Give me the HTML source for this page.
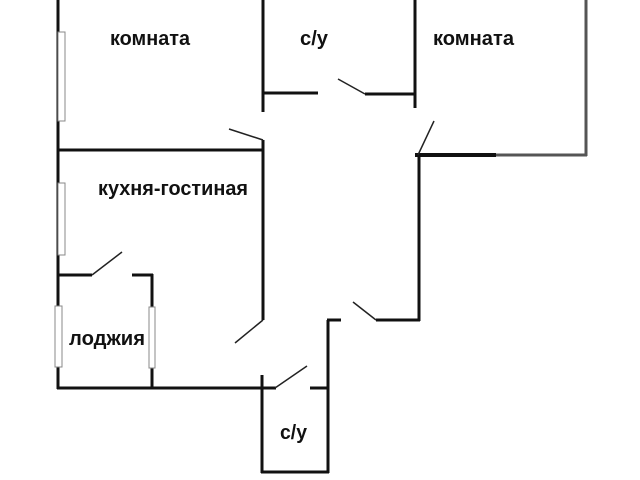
<!DOCTYPE html>
<html><head><meta charset="utf-8"><style>
body{margin:0;background:#fff;width:640px;height:480px;overflow:hidden}
svg{display:block}
text{font-family:"Liberation Sans",sans-serif;font-weight:bold;font-size:20px;fill:#111}
</style></head><body>
<svg width="640" height="480" viewBox="0 0 640 480">
<g stroke="#111" stroke-width="3" fill="none">
<line x1="58" y1="0" x2="58" y2="389"/>
<line x1="57" y1="150" x2="264" y2="150"/>
<line x1="263" y1="0" x2="263" y2="112"/>
<line x1="263" y1="93" x2="318" y2="93"/>
<line x1="263" y1="140" x2="263" y2="320"/>
<line x1="415" y1="0" x2="415" y2="108"/>
<line x1="365" y1="94" x2="415" y2="94"/>
<line x1="415" y1="155" x2="496" y2="155" stroke-width="4"/>
<line x1="419" y1="155" x2="419" y2="321"/>
<line x1="376" y1="320" x2="420" y2="320"/>
<line x1="57" y1="388" x2="262" y2="388"/>
<line x1="57" y1="275" x2="92" y2="275"/>
<line x1="132" y1="275" x2="153" y2="275"/>
<line x1="152" y1="274" x2="152" y2="388"/>
<line x1="262" y1="375" x2="262" y2="473"/>
<line x1="261" y1="472" x2="329" y2="472"/>
<line x1="328" y1="320" x2="328" y2="473"/>
<line x1="327" y1="320" x2="341" y2="320"/>
<line x1="262" y1="388" x2="276" y2="388"/>
<line x1="310" y1="388" x2="329" y2="388"/>
</g>
<g stroke="#555" stroke-width="3" fill="none">
<line x1="496" y1="155" x2="587" y2="155"/>
<line x1="586" y1="0" x2="586" y2="156"/>
</g>
<g stroke="#222" stroke-width="1.5">
<line x1="229" y1="129" x2="263" y2="140"/>
<line x1="338" y1="79" x2="365" y2="94"/>
<line x1="418" y1="155" x2="434" y2="121"/>
<line x1="353" y1="302" x2="376" y2="320"/>
<line x1="235" y1="343" x2="263" y2="320"/>
<line x1="92" y1="275" x2="122" y2="252"/>
<line x1="275" y1="388" x2="307" y2="366"/>
</g>
<g stroke="#888" stroke-width="1" fill="#fff">
<rect x="58" y="32" width="7" height="89"/>
<rect x="58" y="183" width="7" height="72"/>
<rect x="55" y="306" width="7" height="61"/>
<rect x="149" y="307" width="6" height="61"/>
</g>
<text x="110" y="45" textLength="80" lengthAdjust="spacingAndGlyphs">комната</text>
<text x="300" y="45" textLength="28" lengthAdjust="spacingAndGlyphs">с/у</text>
<text x="433" y="45" textLength="81" lengthAdjust="spacingAndGlyphs">комната</text>
<text x="98" y="195" textLength="150" lengthAdjust="spacingAndGlyphs">кухня-гостиная</text>
<text x="69" y="345" textLength="76" lengthAdjust="spacingAndGlyphs">лоджия</text>
<text x="280" y="439" textLength="27" lengthAdjust="spacingAndGlyphs">с/у</text>
</svg>
</body></html>
